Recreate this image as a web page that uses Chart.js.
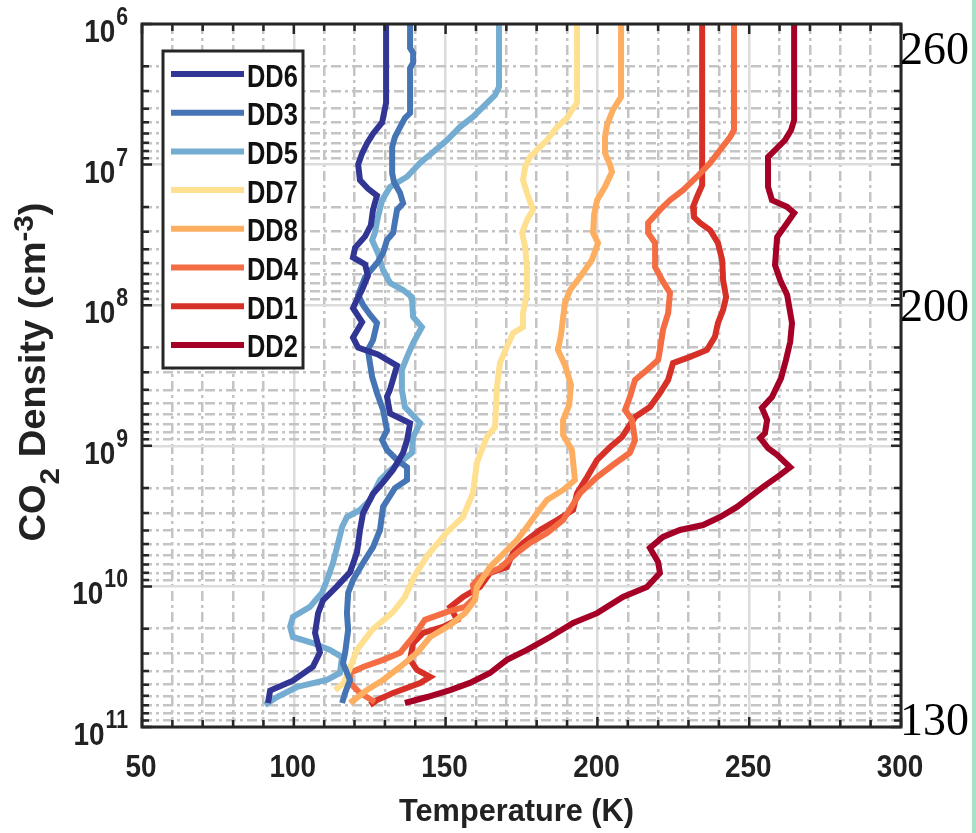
<!DOCTYPE html>
<html>
<head>
<meta charset="utf-8">
<script src="https://cdn.jsdelivr.net/npm/chart.js@4.4.1/dist/chart.umd.min.js"></script>
<style>
html, body { margin: 0; padding: 0; background: #fff; }
canvas { display: block; }
</style>
</head>
<body>
<canvas id="myChart" width="976" height="833"></canvas>
<script>
// profiles: [temperature K, CO2 density cm^-3]
var dd6 = [[130.4,1.0e6],[130.4,3.63e6],[129.1,5.01e6],[126.1,6.03e6],[124.1,7.08e6],[122.5,8.32e6],[121.2,1.0e7],[121.8,1.29e7],[124.4,1.48e7],[127.4,1.66e7],[126.1,2.09e7],[125.4,2.69e7],[123.5,3.24e7],[120.2,3.89e7],[119.5,4.57e7],[123.5,5.13e7],[124.4,6.17e7],[122.5,7.76e7],[120.8,9.12e7],[119.5,1.05e8],[122.5,1.32e8],[119.5,1.70e8],[121.2,2.0e8],[127.7,2.24e8],[134.0,2.69e8],[131.7,3.98e8],[130.7,4.47e8],[131.7,5.89e8],[138.3,6.92e8],[137.3,9.12e8],[136.0,1.12e9],[132.7,1.48e9],[129.4,1.82e9],[126.1,2.19e9],[122.8,3.02e9],[121.8,3.98e9],[120.8,5.75e9],[118.5,7.94e9],[114.2,1.0e10],[109.6,1.26e10],[108.0,1.55e10],[107.0,2.14e10],[108.6,2.95e10],[106.3,3.72e10],[99.7,4.68e10],[92.2,5.50e10],[91.5,6.76e10]];
var dd3 = [[138.3,1.0e6],[138.3,1.48e6],[139.3,1.61e6],[139.3,1.89e6],[138.3,2.06e6],[138.3,4.30e6],[136.6,4.67e6],[135.0,5.41e6],[133.3,6.37e6],[132.4,7.50e6],[132.4,1.15e7],[133.0,1.33e7],[135.0,1.59e7],[136.0,1.88e7],[134.0,2.10e7],[133.3,2.56e7],[132.7,3.06e7],[130.7,3.44e7],[129.4,4.25e7],[127.7,4.93e7],[123.5,6.30e7],[121.2,8.45e7],[122.8,9.95e7],[125.1,1.17e8],[127.4,1.34e8],[126.1,1.77e8],[124.4,2.08e8],[125.8,3.24e8],[127.4,4.21e8],[129.4,5.56e8],[130.7,7.73e8],[129.1,9.10e8],[130.7,1.07e9],[134.0,1.26e9],[137.3,1.42e9],[137.3,1.75e9],[133.3,2.0e9],[129.4,2.72e9],[128.4,3.97e9],[126.1,5.25e9],[122.8,6.81e9],[119.5,9.0e9],[117.9,1.11e10],[117.5,1.55e10],[117.9,2.04e10],[116.9,2.97e10],[116.2,3.51e10],[118.5,4.63e10],[116.9,5.73e10],[115.9,6.75e10]];
var dd5 = [[167.6,1.0e6],[167.6,2.80e6],[166.3,3.20e6],[163.6,3.65e6],[159.0,4.58e6],[154.7,5.41e6],[150.5,6.69e6],[145.9,8.13e6],[141.6,9.75e6],[137.3,1.22e7],[131.7,1.44e7],[129.1,1.79e7],[127.7,2.36e7],[126.7,3.06e7],[125.8,3.44e7],[127.7,4.25e7],[129.4,5.62e7],[131.7,6.95e7],[136.0,7.80e7],[138.9,8.75e7],[139.3,1.21e8],[142.2,1.43e8],[139.3,1.86e8],[137.3,2.33e8],[135.6,2.89e8],[135.6,4.01e8],[136.6,5.30e8],[141.6,6.89e8],[139.3,8.65e8],[138.9,1.12e9],[136.0,1.26e9],[131.7,1.49e9],[128.4,1.75e9],[125.1,2.43e9],[121.8,2.86e9],[117.5,3.21e9],[115.9,3.78e9],[114.6,4.91e9],[112.9,6.81e9],[111.3,8.57e9],[109.3,1.11e10],[105.3,1.40e10],[99.7,1.65e10],[98.8,1.94e10],[99.7,2.29e10],[106.3,2.53e10],[111.9,2.83e10],[115.9,3.18e10],[115.2,4.13e10],[110.9,4.63e10],[101.1,5.19e10],[94.5,6.12e10],[90.5,6.97e10]];
var dd7 = [[193.3,1.0e6],[193.3,3.65e6],[191.6,4.09e6],[190.0,4.67e6],[186.7,5.41e6],[183.4,6.69e6],[180.1,7.87e6],[177.8,8.83e6],[176.2,1.04e7],[175.5,1.29e7],[176.8,1.59e7],[178.8,2.10e7],[176.8,2.48e7],[175.2,3.06e7],[176.2,3.85e7],[176.8,5.35e7],[176.8,8.18e7],[175.5,1.14e8],[175.5,1.43e8],[172.2,1.58e8],[170.2,1.98e8],[167.9,2.58e8],[166.9,3.82e8],[166.3,7.35e8],[163.6,8.65e8],[160.3,1.32e9],[159.0,2.17e9],[155.7,3.21e9],[150.5,4.10e9],[144.2,5.97e9],[139.9,8.30e9],[136.6,1.19e10],[132.7,1.52e10],[125.8,2.04e10],[120.8,2.83e10],[118.5,3.80e10],[116.5,4.86e10],[113.6,5.46e10]];
var dd8 = [[207.8,1.0e6],[207.8,3.30e6],[205.1,4.09e6],[203.2,5.22e6],[202.5,6.37e6],[202.5,8.26e6],[204.2,1.01e7],[204.8,1.13e7],[202.5,1.44e7],[199.9,1.79e7],[198.9,2.28e7],[198.6,3.06e7],[200.2,3.61e7],[198.2,4.76e7],[194.3,6.30e7],[191.0,7.80e7],[189.3,9.64e7],[188.7,1.23e8],[188.0,1.63e8],[187.0,2.08e8],[189.3,2.66e8],[191.3,3.69e8],[190.7,5.13e8],[188.7,6.55e8],[188.7,8.37e8],[191.6,1.07e9],[192.6,1.75e9],[188.7,2.06e9],[183.4,2.43e9],[180.1,3.01e9],[176.8,3.78e9],[173.5,4.68e9],[167.9,6.18e9],[164.6,7.28e9],[160.3,1.01e10],[159.7,1.25e10],[156.4,1.55e10],[151.5,1.88e10],[144.9,2.29e10],[140.6,2.97e10],[135.0,3.74e10],[129.4,4.63e10],[124.1,5.46e10],[118.5,6.75e10]];
var dd4 = [[245.0,1.0e6],[245.0,5.68e6],[243.7,6.37e6],[240.4,7.87e6],[237.1,9.75e6],[232.8,1.22e7],[228.2,1.52e7],[223.9,1.79e7],[220.6,2.10e7],[216.7,2.60e7],[216.7,3.06e7],[219.0,3.61e7],[219.0,5.35e7],[221.3,6.62e7],[223.9,8.18e7],[223.3,1.14e8],[221.6,1.50e8],[220.6,2.08e8],[220.0,2.45e8],[216.3,2.89e8],[212.4,3.40e8],[210.7,4.50e8],[209.1,5.56e8],[211.4,6.55e8],[212.4,9.10e8],[210.7,1.12e9],[205.1,1.37e9],[199.9,1.67e9],[194.3,2.17e9],[188.7,3.37e9],[183.4,4.17e9],[177.8,4.91e9],[173.5,5.78e9],[167.9,7.40e9],[161.3,8.57e9],[159.0,9.77e9],[159.7,1.19e10],[156.4,1.40e10],[150.5,1.52e10],[143.2,1.73e10],[139.3,2.29e10],[135.0,2.97e10],[129.4,3.33e10],[122.8,3.74e10],[118.5,4.13e10],[118.5,4.86e10],[121.8,5.73e10],[126.7,6.64e10]];
var dd1 = [[234.5,1.0e6],[234.5,1.40e7],[232.8,1.70e7],[231.5,2.00e7],[231.8,2.36e7],[233.8,2.60e7],[237.1,2.92e7],[239.7,3.61e7],[241.1,4.76e7],[241.4,6.62e7],[242.4,8.75e7],[241.4,1.08e8],[239.7,1.34e8],[238.7,1.68e8],[236.1,2.08e8],[230.5,2.33e8],[224.9,2.58e8],[223.3,3.40e8],[220.6,4.21e8],[217.3,5.30e8],[212.4,6.24e8],[208.1,8.65e8],[204.2,1.02e9],[199.9,1.26e9],[196.6,1.67e9],[193.3,2.17e9],[192.0,2.86e9],[186.7,3.37e9],[181.1,3.97e9],[175.5,4.91e9],[172.2,5.78e9],[170.2,7.28e9],[164.6,8.02e9],[161.3,1.01e10],[155.7,1.19e10],[151.5,1.40e10],[153.8,1.73e10],[149.1,1.94e10],[142.6,2.14e10],[139.3,2.53e10],[138.3,3.33e10],[140.6,3.93e10],[144.9,4.40e10],[141.6,4.86e10],[132.7,5.73e10],[127.4,6.43e10],[125.1,6.97e10]];
var dd2 = [[264.8,1.0e6],[264.8,4.82e6],[263.8,5.68e6],[261.8,6.69e6],[259.2,7.62e6],[256.2,8.83e6],[256.2,1.44e7],[257.5,1.79e7],[262.5,2.00e7],[264.8,2.21e7],[262.5,2.60e7],[259.2,3.27e7],[258.5,5.18e7],[260.2,6.62e7],[262.5,8.45e7],[264.1,1.34e8],[263.5,1.83e8],[262.1,2.45e8],[260.5,3.30e8],[257.5,4.50e8],[254.2,5.38e8],[255.9,6.55e8],[255.2,8.11e8],[253.6,8.79e8],[256.2,1.04e9],[259.2,1.16e9],[263.5,1.42e9],[260.2,1.61e9],[254.6,1.96e9],[250.3,2.31e9],[246.0,2.72e9],[240.4,3.21e9],[234.8,3.66e9],[227.2,3.97e9],[221.6,4.45e9],[217.3,5.33e9],[220.0,6.70e9],[220.6,8.02e9],[216.3,1.01e10],[208.4,1.19e10],[199.9,1.55e10],[192.0,1.82e10],[184.4,2.29e10],[176.8,2.83e10],[170.2,3.33e10],[164.6,4.13e10],[158.0,4.86e10],[151.5,5.46e10],[143.9,6.12e10],[136.6,6.75e10]];

var labels = ["DD6", "DD3", "DD5", "DD7", "DD8", "DD4", "DD1", "DD2"];
var profiles = [dd6, dd3, dd5, dd7, dd8, dd4, dd1, dd2];
var colors = ["#313695", "#4575b4", "#74add1", "#fee090", "#fdae61", "#f46d43", "#d73027", "#a50026"];

var xTicks = [50, 100, 150, 200, 250, 300];
var xTickLabels = ["50", "100", "150", "200", "250", "300"];
var yTicks = [1e6, 1e7, 1e8, 1e9, 1e10, 1e11];
var yTickExp = ["6", "7", "8", "9", "10", "11"];

// numbers printed down the right edge
var sideLabels = ["260", "200", "130"];
var sideAt = [1.47e6, 1.0e8, 8.8e10];

var FONT = "'Liberation Sans', Arial, sans-serif";

// minor grid: every 10 K, and 2..9 within each decade
var xGrid = [];
for (var t = xTicks[0]; t <= xTicks[xTicks.length - 1]; t += 10) xGrid.push(t);
var yGrid = [];
yTicks.forEach(function (d, i) {
    yGrid.push(d);
    if (i < yTicks.length - 1) for (var m = 2; m <= 9; m++) yGrid.push(d * m);
});

function isMajorX(v) { return v % 50 === 0; }
function isMajorY(v) { var l = Math.log10(v); return Math.abs(l - Math.round(l)) < 1e-6; }

function scaledText(ctx, text, x, y, font, sx, align) {
    ctx.save();
    ctx.font = font;
    var w = ctx.measureText(text).width * sx;
    var x0 = x;
    if (align === "center") x0 = x - w / 2;
    if (align === "right") x0 = x - w;
    ctx.translate(x0, y);
    ctx.scale(sx, 1);
    ctx.textAlign = "left";
    ctx.textBaseline = "alphabetic";
    ctx.fillText(text, 0, 0);
    ctx.restore();
    return w;
}

var decorations = {
    id: "decorations",
    afterDraw: function (chart) {
        var ctx = chart.ctx, a = chart.chartArea;
        var xs = chart.scales.x, ys = chart.scales.y;

        // teal edge strip
        ctx.fillStyle = "#a6e2c8";
        ctx.fillRect(972, 0, 4, chart.height);

        // inward tick marks
        ctx.save();
        ctx.strokeStyle = "#262626";
        ctx.lineWidth = 2.5;
        ctx.beginPath();
        xGrid.forEach(function (v) {
            var px = xs.getPixelForValue(v), len = isMajorX(v) ? 10 : 7;
            ctx.moveTo(px, a.bottom); ctx.lineTo(px, a.bottom - len);
            ctx.moveTo(px, a.top); ctx.lineTo(px, a.top + len);
        });
        yGrid.forEach(function (v) {
            var py = ys.getPixelForValue(v), len = isMajorY(v) ? 10 : 7;
            ctx.moveTo(a.left, py); ctx.lineTo(a.left + len, py);
            ctx.moveTo(a.right, py); ctx.lineTo(a.right - len, py);
        });
        ctx.stroke();
        ctx.lineWidth = 3;
        ctx.strokeRect(a.left, a.top, a.right - a.left, a.bottom - a.top);
        ctx.restore();

        ctx.fillStyle = "#222";
        // x tick labels
        xTicks.forEach(function (v, i) {
            scaledText(ctx, xTickLabels[i], xs.getPixelForValue(v) - 1, 777, "bold 31px " + FONT, 0.9, "center");
        });
        // y tick labels 10^n
        yTicks.forEach(function (v, i) {
            var py = ys.getPixelForValue(v);
            var w = scaledText(ctx, yTickExp[i], 128, py + 1, "bold 25px " + FONT, 0.85, "right");
            scaledText(ctx, "10", 128 - w - 1, py + 18, "bold 31px " + FONT, 0.9, "right");
        });
        // x title
        scaledText(ctx, "Temperature (K)", (a.left + a.right) / 2 - 5, 821, "bold 32px " + FONT, 0.96, "center");

        // y title with sub/superscript, rotated
        var parts = [
            { t: "CO", f: "bold 36px " + FONT, dy: 0 },
            { t: "2", f: "bold 28px " + FONT, dy: 14 },
            { t: " Density (cm", f: "bold 36px " + FONT, dy: 0 },
            { t: "-3", f: "bold 28px " + FONT, dy: -12 },
            { t: ")", f: "bold 36px " + FONT, dy: 0 }
        ];
        var total = 0;
        parts.forEach(function (p) { ctx.font = p.f; p.w = ctx.measureText(p.t).width; total += p.w; });
        var sx = 339 / total;
        ctx.save();
        ctx.translate(45, 372);
        ctx.rotate(-Math.PI / 2);
        ctx.scale(sx, 1);
        ctx.textAlign = "left";
        ctx.textBaseline = "alphabetic";
        var cx = -total / 2;
        parts.forEach(function (p) { ctx.font = p.f; ctx.fillText(p.t, cx, p.dy); cx += p.w; });
        ctx.restore();

        // right-hand numbers
        ctx.save();
        ctx.fillStyle = "#000";
        ctx.font = "46px 'Liberation Serif', 'Times New Roman', serif";
        ctx.textAlign = "left";
        ctx.textBaseline = "alphabetic";
        sideLabels.forEach(function (s, i) {
            ctx.fillText(s, 900, ys.getPixelForValue(sideAt[i]) + 16);
        });
        ctx.restore();

        // legend box
        var lx = 163, ly = 51, lw = 140, lh = 317;
        ctx.save();
        ctx.fillStyle = "#fff";
        ctx.fillRect(lx, ly, lw, lh);
        ctx.strokeStyle = "#262626";
        ctx.lineWidth = 3;
        ctx.strokeRect(lx, ly, lw, lh);
        chart.data.datasets.forEach(function (ds, i) {
            var ry = 74 + i * 38.7;
            ctx.strokeStyle = ds.borderColor;
            ctx.lineWidth = 6;
            ctx.beginPath();
            ctx.moveTo(171, ry); ctx.lineTo(244, ry);
            ctx.stroke();
            ctx.fillStyle = "#111";
            scaledText(ctx, ds.label, 247, ry + 12.5, "bold 31px " + FONT, 0.82, "left");
        });
        ctx.restore();
    }
};

var ctx = document.getElementById("myChart");
var datasets = profiles.map(function (p, i) {
    return {
        label: labels[i],
        data: p.map(function (q) { return { x: q[0], y: q[1] }; }),
        borderColor: colors[i],
        backgroundColor: colors[i],
        borderWidth: 6,
        pointRadius: 0,
        showLine: true,
        tension: 0,
        borderCapStyle: "butt",
        borderJoinStyle: "miter"
    };
});

var myChart = new Chart(ctx, {
    type: "scatter",
    data: { datasets: datasets },
    options: {
        responsive: false,
        devicePixelRatio: 1,
        animation: false,
        events: [],
        layout: { padding: { left: 142, top: 24, right: 75, bottom: 106 } },
        plugins: { legend: { display: false }, tooltip: { enabled: false } },
        scales: {
            x: {
                type: "linear",
                min: 50,
                max: 300,
                afterBuildTicks: function (scale) {
                    scale.ticks = xGrid.map(function (v) { return { value: v }; });
                },
                ticks: { display: false },
                border: {
                    display: false,
                    dash: function (c) { return isMajorX(c.tick.value) ? [] : [10, 4, 3, 4]; }
                },
                grid: {
                    drawTicks: false,
                    lineWidth: 2.5,
                    color: function (c) { return isMajorX(c.tick.value) ? "#dcdcdc" : "#c4c4c4"; }
                }
            },
            y: {
                type: "logarithmic",
                min: 1e6,
                max: 1e11,
                reverse: true,
                afterBuildTicks: function (scale) {
                    scale.ticks = yGrid.map(function (v) { return { value: v }; });
                },
                ticks: { display: false },
                border: {
                    display: false,
                    dash: function (c) { return isMajorY(c.tick.value) ? [] : [10, 4, 3, 4]; }
                },
                grid: {
                    drawTicks: false,
                    lineWidth: 2.5,
                    color: function (c) { return isMajorY(c.tick.value) ? "#dcdcdc" : "#c4c4c4"; }
                }
            }
        }
    },
    plugins: [decorations]
});
</script>
</body>
</html>
